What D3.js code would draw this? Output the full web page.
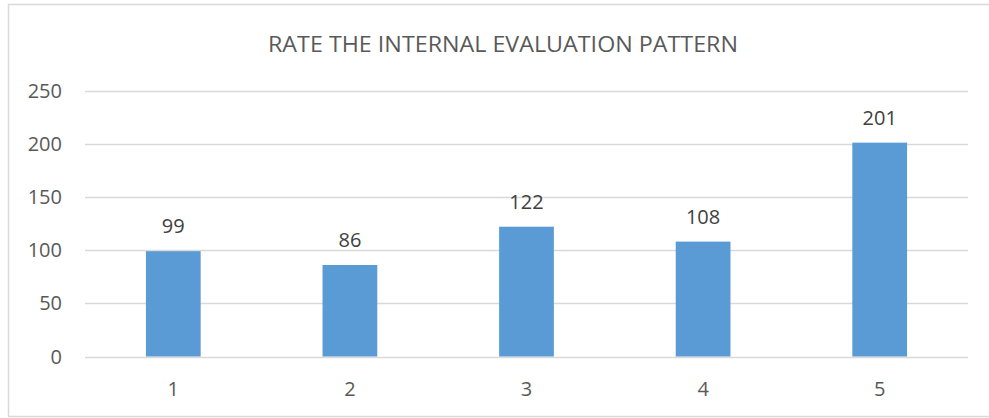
<!DOCTYPE html>
<html>
<head>
<meta charset="utf-8">
<script src="https://cdn.jsdelivr.net/npm/d3@7"></script>
<style>
  body { margin: 0; background: #fff; }
  text { font-family: "Open Sans", sans-serif; }
</style>
</head>
<body>
<div id="chart"></div>
<script>
// chart values
var categories = ["1", "2", "3", "4", "5"];
var values = [99, 86, 122, 108, 201];
var yTicks = [0, 50, 100, 150, 200, 250];
var chartTitle = "RATE THE INTERNAL EVALUATION PATTERN";

var width = 989, height = 418;
var plot = { left: 85, right: 968, top: 90.5, bottom: 356.5 };

var svg = d3.select("#chart")
  .append("svg")
  .attr("width", width)
  .attr("height", height);

// outer chart border
svg.append("rect")
  .attr("x", 8.5).attr("y", 4.5)
  .attr("width", 985).attr("height", 412)
  .style("fill", "none")
  .style("stroke", "#d9d9d9")
  .style("stroke-width", 1.5);

// title
svg.append("text")
  .attr("x", 503).attr("y", 52)
  .attr("text-anchor", "middle")
  .attr("textLength", 470)
  .attr("lengthAdjust", "spacingAndGlyphs")
  .style("font-size", "22px")
  .style("fill", "#595959")
  .text(chartTitle);

var x = d3.scaleBand()
  .domain(categories)
  .range([plot.left, plot.right])
  .paddingInner(0.69)
  .paddingOuter(0.345);

var y = d3.scaleLinear()
  .domain([0, 250])
  .range([plot.bottom, plot.top]);

// gridlines
svg.append("g")
  .selectAll("line")
  .data(yTicks)
  .enter()
  .append("line")
  .attr("x1", plot.left).attr("x2", plot.right)
  .attr("y1", function (d) { return Math.round(y(d)) + 0.5; })
  .attr("y2", function (d) { return Math.round(y(d)) + 0.5; })
  .style("stroke", "#d9d9d9")
  .style("stroke-width", 1.5);

// y labels
svg.append("g")
  .selectAll("text")
  .data(yTicks)
  .enter()
  .append("text")
  .attr("x", 62)
  .attr("y", function (d) { return y(d) + 7; })
  .attr("text-anchor", "end")
  .style("font-size", "20px")
  .style("fill", "#595959")
  .text(function (d) { return d; });

// bars
svg.append("g")
  .selectAll("rect")
  .data(values)
  .enter()
  .append("rect")
  .attr("x", function (d, i) { return x(categories[i]); })
  .attr("width", x.bandwidth())
  .attr("y", function (d) { return y(d); })
  .attr("height", function (d) { return y(0) - y(d); })
  .style("fill", "#5b9bd5");

// value labels
svg.append("g")
  .selectAll("text")
  .data(values)
  .enter()
  .append("text")
  .attr("x", function (d, i) { return x(categories[i]) + x.bandwidth() / 2; })
  .attr("y", function (d) { return y(d) - 18; })
  .attr("text-anchor", "middle")
  .style("font-size", "20px")
  .style("fill", "#404040")
  .text(function (d) { return d; });

// x labels
svg.append("g")
  .selectAll("text")
  .data(categories)
  .enter()
  .append("text")
  .attr("x", function (d) { return x(d) + x.bandwidth() / 2; })
  .attr("y", 396)
  .attr("text-anchor", "middle")
  .style("font-size", "20px")
  .style("fill", "#595959")
  .text(function (d) { return d; });
</script>
</body>
</html>
